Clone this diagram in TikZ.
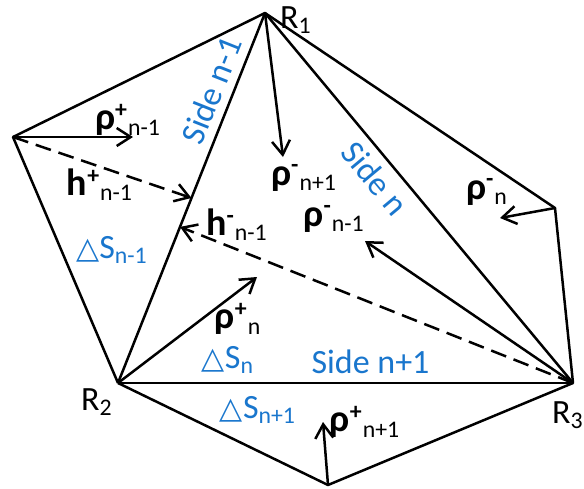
\documentclass[tikz,border=0pt]{standalone}
\usepackage{fontspec}
\setmainfont{Carlito}
\newfontfamily\symfont{DejaVu Sans}
\usetikzlibrary{arrows.meta,calc}
\definecolor{sideblue}{RGB}{25,118,205}
\newcommand\rh[3]{{\bfseries\fontsize{19}{20}\selectfont #1}\textsuperscript{\bfseries #2}\textsubscript{#3}}
\newcommand\ds[1]{{\symfont\fontsize{15}{18}\selectfont △}S\textsubscript{#1}}

\begin{document}
\begin{tikzpicture}[x=0.5pt,y=-0.5pt,>={Straight Barb[length=7pt,width=9pt]},line width=1.25pt,line join=round,font=\fontsize{17}{20}\selectfont]
\tikzstyle{lbl}=[inner sep=0pt]
\tikzstyle{sd}=[text=sideblue,inner sep=4pt]
\tikzstyle{hh}=[->,dash pattern=on 8pt off 4pt]
\useasboundingbox (0,0) rectangle (584,488);
\foreach \n/\p in {R1/{265,13},L/{13,137},R2/{118,383},R3/{573,383},Rt/{555,208},B/{328,485}} \coordinate (\n) at (\p);
\draw (R2) -- (L) -- (R1) -- (Rt) -- (R3) -- (B) -- (R2);
\draw (R2) -- node[sd,pos=0.77,sloped,above] {Side n-1} (R1);
\draw (R1) -- node[sd,pos=0.41,sloped,below] {Side n} (R3);
\draw (R2) -- node[sd,pos=0.555,above] {Side n+1} (R3);
\coordinate (hp) at ($(R2)!0.5!(R1)$); \coordinate (hm) at ($(R2)!(R3)!(R1)$);
\foreach \n/\p in {pl/{133,137},pa/{283,157},pb/{500,218},pc/{365,241},pd/{257,277},pe/{323,422}} \coordinate (\n) at (\p);
\draw[->] (L) -- (pl); \draw[->] (R1) -- (pa); \draw[->] (Rt) -- (pb);
\draw[->] (R3) -- (pc); \draw[->] (R2) -- (pd); \draw[->] (B) -- (pe);
\draw[hh] (L) -- (hp); \draw[hh] (R3) -- (hm);
\node[lbl] (r1) at (296,20) {R\textsubscript{1}};
\node[lbl] (r2) at (97,402) {R\textsubscript{2}};
\node[lbl] (r3) at (568,415) {R\textsubscript{3}};
\node[lbl] (rp1) at (128,120) {\rh{ρ}{+}{n-1}};
\node[lbl] (hp1) at (100,185) {\rh{h}{+}{n-1}};
\node[lbl] (hm1) at (237,225) {\rh{h}{-}{n-1}};
\node[lbl] (rm3) at (304,178) {\rh{ρ}{-}{n+1}};
\node[lbl] (rm1) at (334,219) {\rh{ρ}{-}{n-1}};
\node[lbl] (rm2) at (487,192) {\rh{ρ}{-}{n}};
\node[lbl] (rp2) at (238,319) {\rh{ρ}{+}{n}};
\node[lbl] (rp3) at (365,422) {\rh{ρ}{+}{n+1}};
\node[lbl,text=sideblue] (s1) at (112,250) {\ds{n-1}};
\node[lbl,text=sideblue] (s2) at (228,360) {\ds{n}};
\node[lbl,text=sideblue] (s3) at (258,410) {\ds{n+1}};
\end{tikzpicture}
\end{document}
